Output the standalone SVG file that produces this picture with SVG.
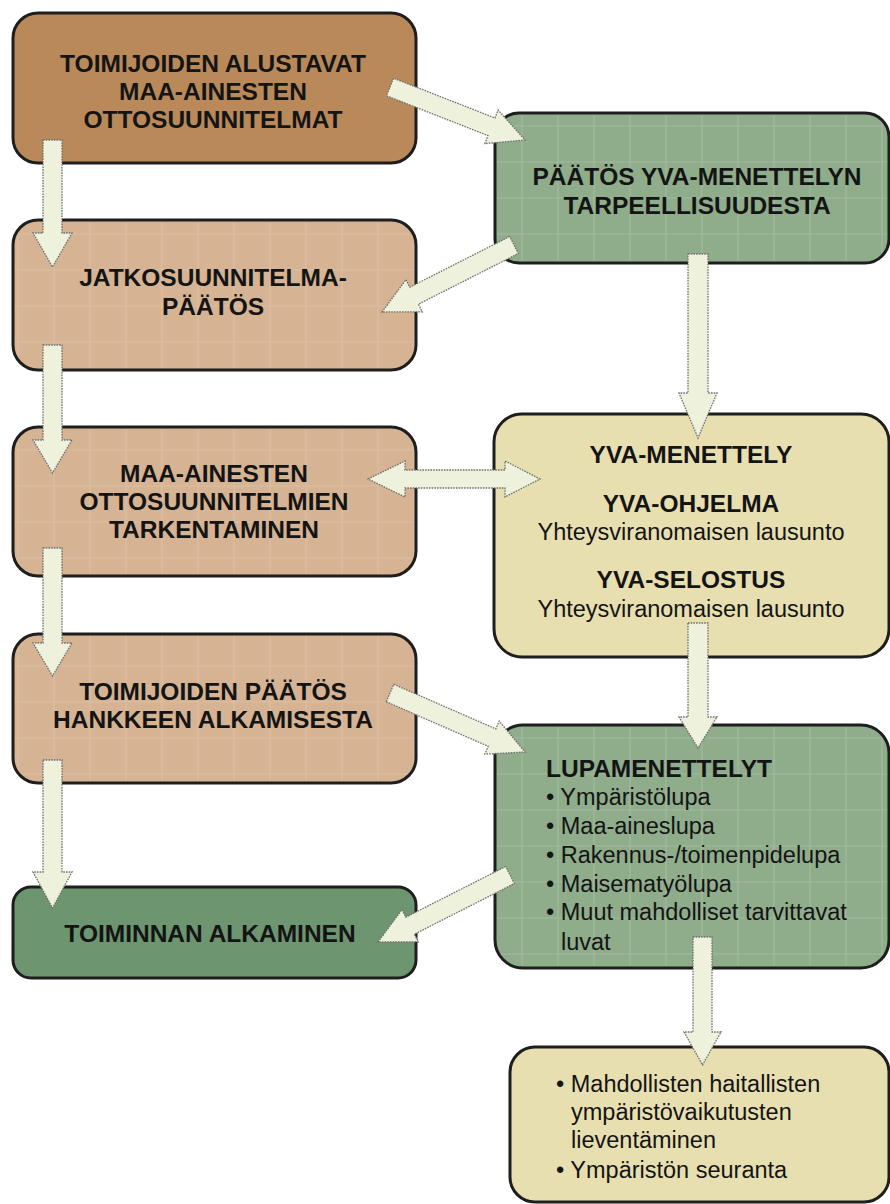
<svg xmlns="http://www.w3.org/2000/svg" width="890" height="1204" viewBox="0 0 890 1204">
  <defs>
    <style>
      .box { stroke: #1e1e1e; stroke-width: 3; }
      .brown { fill: #b9895a; }
      .tan { fill: #d5b393; }
      .sage { fill: #8fac8b; }
      .dark { fill: #6c9570; }
      .cream { fill: #e8dfb0; }
      .grid { fill: url(#grid); stroke: none; }
      .t { font-family: "Liberation Sans", Arial, sans-serif; font-size: 23.5px; fill: #141414; }
      .b { font-weight: bold; font-size: 24.5px; }
      .c { text-anchor: middle; }
      .arr { fill: #eef2dc; stroke: #6f6f6f; stroke-width: 1.3; stroke-dasharray: 1.6 1.1; stroke-linejoin: miter; }
    </style>
    <pattern id="grid" x="0" y="0" width="36" height="36" patternUnits="userSpaceOnUse">
      <path d="M18 0 V36 M0 18 H36" stroke="#ffffff" stroke-opacity="0.16" stroke-width="1.2" fill="none"/>
    </pattern>
  </defs>
  <rect width="890" height="1204" fill="#ffffff"/>

  <g id="n1">
    <rect class="box brown" x="13" y="13" width="403" height="150" rx="25"/>
    <text class="t b c" x="213" y="72">TOIMIJOIDEN ALUSTAVAT</text>
    <text class="t b c" x="213" y="100">MAA-AINESTEN</text>
    <text class="t b c" x="213" y="128">OTTOSUUNNITELMAT</text>
  </g>

  <g id="n2">
    <rect class="box sage" x="495" y="113" width="394" height="150" rx="24"/>
    <rect class="grid" x="497" y="115" width="390" height="146" rx="22"/>
    <text class="t b c" x="697" y="185">PÄÄTÖS YVA-MENETTELYN</text>
    <text class="t b c" x="697" y="214">TARPEELLISUUDESTA</text>
  </g>

  <g id="n3">
    <rect class="box tan" x="13" y="220" width="403" height="150" rx="25"/>
    <rect class="grid" x="15" y="222" width="399" height="146" rx="23"/>
    <text class="t b c" x="213" y="286">JATKOSUUNNITELMA-</text>
    <text class="t b c" x="213" y="315">PÄÄTÖS</text>
  </g>

  <g id="n4">
    <rect class="box tan" x="13" y="427" width="403" height="149" rx="25"/>
    <rect class="grid" x="15" y="429" width="399" height="145" rx="23"/>
    <text class="t b c" x="214" y="482">MAA-AINESTEN</text>
    <text class="t b c" x="214" y="510">OTTOSUUNNITELMIEN</text>
    <text class="t b c" x="214" y="538">TARKENTAMINEN</text>
  </g>

  <g id="n5">
    <rect class="box cream" x="494" y="414" width="395" height="243" rx="28"/>
    <text class="t b c" x="691" y="463">YVA-MENETTELY</text>
    <text class="t b c" x="691" y="512">YVA-OHJELMA</text>
    <text class="t c" x="691" y="540">Yhteysviranomaisen lausunto</text>
    <text class="t b c" x="691" y="588">YVA-SELOSTUS</text>
    <text class="t c" x="691" y="617">Yhteysviranomaisen lausunto</text>
  </g>

  <g id="n6">
    <rect class="box tan" x="13" y="634" width="403" height="149" rx="25"/>
    <rect class="grid" x="15" y="636" width="399" height="145" rx="23"/>
    <text class="t b c" x="213" y="700">TOIMIJOIDEN PÄÄTÖS</text>
    <text class="t b c" x="213" y="728">HANKKEEN ALKAMISESTA</text>
  </g>

  <g id="n7">
    <rect class="box dark" x="13" y="887" width="403" height="91" rx="18"/>
    <text class="t b c" x="210" y="942">TOIMINNAN ALKAMINEN</text>
  </g>

  <g id="n8">
    <rect class="box sage" x="495" y="725" width="394" height="243" rx="28"/>
    <rect class="grid" x="497" y="727" width="390" height="239" rx="26"/>
    <text class="t b" x="546" y="777">LUPAMENETTELYT</text>
    <text class="t" x="546" y="805">• Ympäristölupa</text>
    <text class="t" x="546" y="834">• Maa-aineslupa</text>
    <text class="t" x="546" y="863">• Rakennus-/toimenpidelupa</text>
    <text class="t" x="546" y="892">• Maisematyölupa</text>
    <text class="t" x="546" y="920">• Muut mahdolliset tarvittavat</text>
    <text class="t" x="561" y="950">luvat</text>
  </g>

  <g id="n9">
    <rect class="box cream" x="510" y="1047" width="379" height="155" rx="25"/>
    <text class="t" x="556" y="1092">• Mahdollisten haitallisten</text>
    <text class="t" x="571" y="1120">ympäristövaikutusten</text>
    <text class="t" x="571" y="1148">lieventäminen</text>
    <text class="t" x="556" y="1178">• Ympäristön seuranta</text>
  </g>

  <g id="connectors">
    <polygon class="arr" points="43,140 62,140 62,233 72,233 52.5,267 33,233 43,233"/>
    <polygon class="arr" points="43,345 62,345 62,440 72,440 52.5,473 33,440 43,440"/>
    <polygon class="arr" points="43,548 62,548 62,643 72,643 52.5,676 33,643 43,643"/>
    <polygon class="arr" points="43,760 62,760 62,872 72,872 52.5,908 33,872 43,872"/>
    <polygon class="arr" points="688,254 708,254 708,393 717,393 698,438 679,393 688,393"/>
    <polygon class="arr" points="688,623 708,623 708,717 717,717 698,748 679,717 688,717"/>
    <polygon class="arr" points="693,937 712,937 712,1032 721,1032 702.5,1065 684,1032 693,1032"/>
    <polygon class="arr" points="386.5,95.8 488,135.6 484.9,143.6 525,140 498.1,110 495,118 393.5,78.2"/>
    <polygon class="arr" points="509.7,236.5 409.8,287.2 406,279.6 382,312 422.3,311.8 418.4,304.2 518.3,253.5"/>
    <polygon class="arr" points="386.2,701.7 488.2,746.3 484.8,754.1 525,752 499.2,721.1 495.8,728.9 393.8,684.3"/>
    <polygon class="arr" points="505.7,866.5 405.8,917.2 402,909.6 378,942 418.3,941.8 414.4,934.2 514.3,883.5"/>
    <polygon class="arr" points="368,479 405,461 405,470 505,470 505,461 540,479 505,497 505,488 405,488 405,497"/>
  </g>
</svg>
